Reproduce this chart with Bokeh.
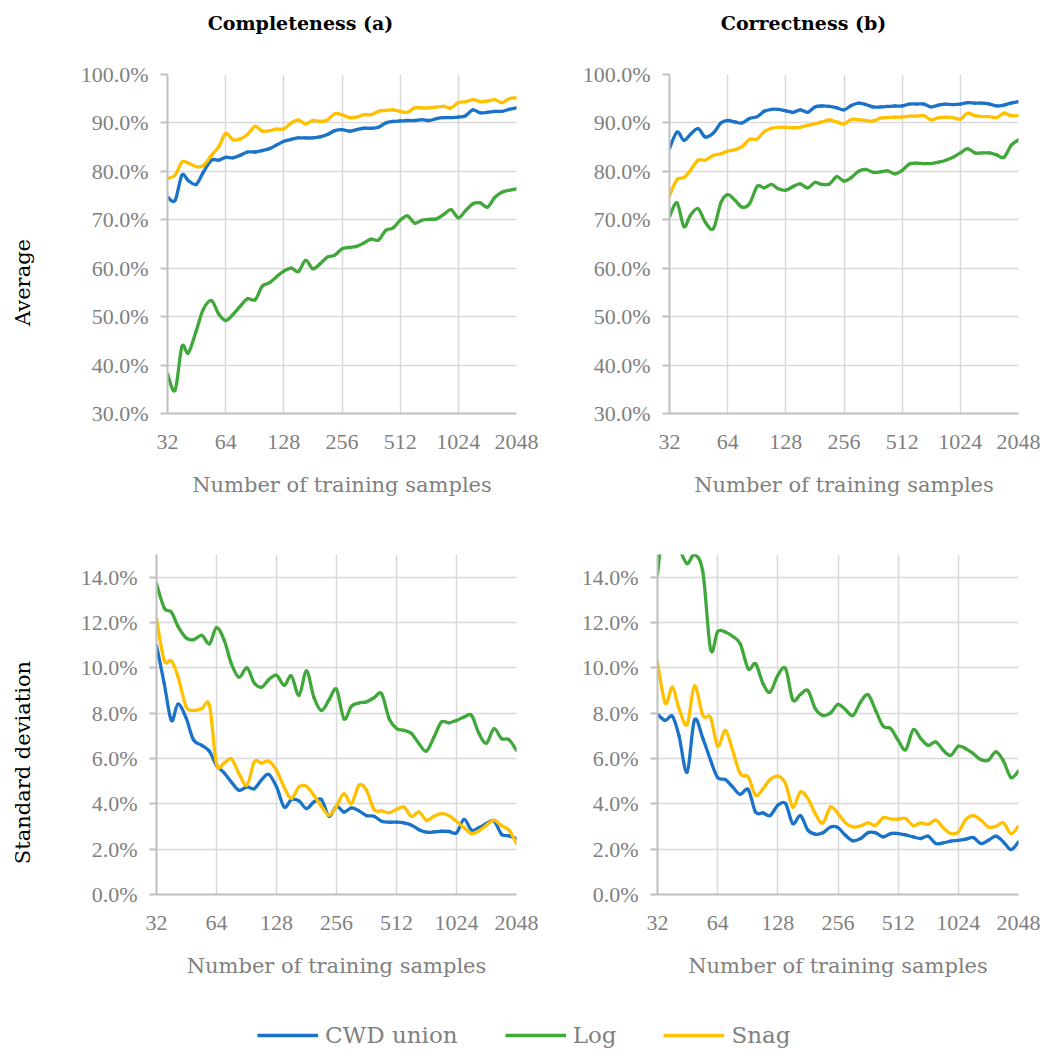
import math
from bokeh.plotting import figure
from bokeh.layouts import column, row
from bokeh.models import Range1d, FixedTicker, PrintfTickFormatter, Label, Legend, LegendItem
from bokeh.embed import file_html
from bokeh.resources import INLINE

# ---------------- data ----------------
samples = [32, 35, 38, 41, 45, 49, 54, 59,
           64, 70, 76, 83, 91, 99, 108, 117,
           128, 140, 152, 166, 181, 197, 215, 235,
           256, 279, 304, 332, 362, 395, 431, 470,
           512, 558, 609, 664, 724, 790, 861, 939,
           1024, 1117, 1218, 1328, 1448, 1579, 1722, 1878,
           2048]

series_names = ["CWD union", "Log", "Snag"]

# Completeness (a) - Average (%)
comp_avg_cwd = [74.7, 74.0, 79.2, 78.1, 77.3, 79.8, 82.3, 82.3, 82.9, 82.8, 83.3, 84.0, 84.0, 84.3, 84.7, 85.4,
                86.2, 86.6, 86.9, 86.9, 86.9, 87.1, 87.6, 88.4, 88.6, 88.3, 88.6, 88.9, 88.9, 89.1, 90.0, 90.3,
                90.4, 90.5, 90.5, 90.7, 90.5, 90.9, 91.1, 91.1, 91.2, 91.5, 92.7, 92.1, 92.2, 92.4, 92.4, 92.8, 93.1]
comp_avg_log = [38.2, 34.8, 43.8, 42.5, 47.0, 51.5, 53.3, 50.5, 49.2, 50.5, 52.1, 53.7, 53.5, 56.3, 57.0, 58.2,
                59.4, 60.0, 59.3, 61.6, 59.9, 60.9, 62.3, 62.7, 64.0, 64.3, 64.5, 65.2, 66.0, 65.8, 67.8, 68.3,
                69.9, 70.8, 69.3, 69.9, 70.1, 70.2, 71.1, 72.1, 70.4, 71.9, 73.3, 73.5, 72.6, 74.6, 75.7, 76.1, 76.4]
comp_avg_snag = [78.5, 79.2, 81.9, 81.7, 81.0, 81.2, 83.3, 85.1, 87.8, 86.5, 86.7, 87.6, 89.3, 88.3, 88.4, 88.7,
                 88.8, 90.0, 90.6, 89.8, 90.5, 90.3, 90.6, 91.9, 91.7, 91.1, 91.2, 91.7, 91.7, 92.4, 92.6, 92.7,
                 92.4, 92.2, 93.1, 93.1, 93.1, 93.3, 93.4, 93.1, 94.2, 94.4, 94.8, 94.4, 94.5, 94.8, 94.2, 95.0, 95.2]

# Correctness (b) - Average (%)
corr_avg_cwd = [84.7, 88.1, 86.4, 87.6, 88.8, 87.1, 87.9, 90.0, 90.5, 90.2, 90.0, 90.9, 91.3, 92.4, 92.8, 92.8,
                92.5, 92.2, 92.7, 92.2, 93.3, 93.5, 93.4, 93.1, 92.7, 93.6, 94.1, 93.8, 93.3, 93.3, 93.4, 93.5,
                93.5, 93.9, 93.9, 93.9, 93.3, 93.7, 93.9, 93.8, 93.9, 94.2, 94.1, 94.1, 93.9, 93.5, 93.7, 94.1, 94.4]
corr_avg_log = [70.6, 73.5, 68.6, 70.9, 72.3, 69.5, 68.2, 73.5, 75.2, 74.0, 72.6, 73.3, 76.9, 76.6, 77.3, 76.4,
                76.1, 76.9, 77.4, 76.6, 77.7, 77.3, 77.4, 78.9, 78.0, 78.7, 80.0, 80.4, 79.8, 79.9, 80.1, 79.5,
                80.2, 81.5, 81.7, 81.6, 81.6, 81.9, 82.3, 82.9, 83.8, 84.7, 83.8, 83.8, 83.8, 83.4, 82.9, 85.4, 86.5]
corr_avg_snag = [75.0, 78.3, 78.7, 80.2, 82.3, 82.3, 83.3, 83.6, 84.2, 84.5, 85.1, 86.6, 86.7, 88.2, 88.9, 89.1,
                 89.1, 89.0, 89.1, 89.5, 89.8, 90.2, 90.6, 90.2, 89.8, 90.7, 90.7, 90.5, 90.4, 91.0, 91.1, 91.2,
                 91.2, 91.4, 91.4, 91.5, 90.6, 91.1, 91.2, 91.1, 90.8, 92.0, 91.5, 91.3, 91.3, 91.1, 92.0, 91.5, 91.5]

# Completeness (a) - Standard deviation (%)
comp_sd_cwd = [10.99, 9.30, 7.68, 8.40, 7.80, 6.83, 6.58, 6.32, 5.70, 5.36, 4.96, 4.60, 4.75, 4.67, 5.07, 5.30,
               4.75, 3.86, 4.19, 4.13, 3.79, 4.08, 4.19, 3.45, 3.89, 3.64, 3.82, 3.69, 3.48, 3.45, 3.23, 3.19,
               3.19, 3.16, 3.06, 2.86, 2.75, 2.76, 2.79, 2.78, 2.72, 3.31, 2.84, 2.95, 3.13, 3.25, 2.66, 2.59, 2.47]
comp_sd_log = [13.71, 12.64, 12.46, 11.83, 11.33, 11.24, 11.43, 11.06, 11.77, 11.21, 10.18, 9.59, 10.0, 9.33, 9.15, 9.48,
               9.67, 9.23, 9.64, 8.79, 9.86, 8.71, 8.12, 8.59, 9.05, 7.75, 8.30, 8.45, 8.50, 8.68, 8.86, 7.76,
               7.32, 7.24, 7.10, 6.65, 6.33, 6.95, 7.61, 7.57, 7.68, 7.83, 7.90, 7.10, 6.68, 7.32, 6.88, 6.83, 6.36]
comp_sd_snag = [12.16, 10.33, 10.30, 9.62, 8.30, 8.12, 8.20, 8.34, 5.77, 5.80, 5.99, 5.33, 4.82, 5.85, 5.80, 5.88,
                5.48, 4.72, 4.23, 4.75, 4.77, 4.38, 3.89, 3.50, 3.89, 4.45, 4.01, 4.82, 4.60, 3.75, 3.69, 3.61,
                3.75, 3.86, 3.45, 3.64, 3.28, 3.45, 3.57, 3.48, 3.23, 2.95, 2.69, 2.81, 3.06, 3.28, 3.04, 2.84, 2.25]

# Correctness (b) - Standard deviation (%)
corr_sd_cwd = [7.95, 7.68, 7.86, 7.00, 5.40, 7.70, 6.88, 5.92, 5.16, 5.07, 4.75, 4.42, 4.63, 3.64, 3.60, 3.48,
               3.94, 4.01, 3.13, 3.48, 2.84, 2.66, 2.72, 2.98, 2.95, 2.61, 2.37, 2.47, 2.73, 2.72, 2.54, 2.69,
               2.69, 2.63, 2.54, 2.47, 2.57, 2.25, 2.28, 2.35, 2.39, 2.44, 2.51, 2.25, 2.39, 2.57, 2.32, 1.98, 2.32]
corr_sd_log = [14.15, 16.8, 16.0, 15.3, 14.6, 15.0, 14.2, 10.8, 11.6, 11.58, 11.39, 11.06, 9.96, 10.18, 9.30, 8.93,
               9.67, 9.96, 8.59, 8.83, 9.00, 8.20, 7.90, 8.01, 8.39, 8.15, 7.90, 8.49, 8.81, 8.12, 7.42, 7.32,
               6.80, 6.39, 7.27, 6.88, 6.58, 6.73, 6.36, 6.14, 6.54, 6.43, 6.21, 5.95, 5.92, 6.29, 5.89, 5.16, 5.45]
corr_sd_snag = [10.25, 8.45, 9.15, 8.20, 7.50, 9.20, 7.90, 7.80, 6.55, 7.24, 6.36, 5.33, 5.19, 4.38, 4.67, 5.07,
                5.22, 4.89, 3.86, 4.52, 4.23, 3.57, 3.16, 3.86, 3.57, 3.16, 2.98, 3.03, 3.16, 3.06, 3.39, 3.33,
                3.33, 3.35, 3.04, 3.16, 3.10, 3.28, 2.95, 2.69, 2.76, 3.31, 3.48, 3.28, 2.98, 3.01, 3.16, 2.69, 3.01]

x_ticks = [32, 64, 128, 256, 512, 1024, 2048]
x_tick_labels = ["32", "64", "128", "256", "512", "1024", "2048"]
avg_ticks = [30, 40, 50, 60, 70, 80, 90, 100]
sd_ticks = [0, 2, 4, 6, 8, 10, 12, 14]

col_titles = ["Completeness (a)", "Correctness (b)"]
row_titles = ["Average", "Standard deviation"]
x_title = "Number of training samples"

# ---------------- style ----------------
COLORS = ["#1a73c8", "#40a83a", "#ffc000"]
GRID = "#d9d9d9"
AXIS = "#bfbfbf"
TXT = "#7f7f7f"
SERIF = "DejaVu Serif"
NUM = "Liberation Serif"
LW = 3.3


def smooth_line(p, xs, ys, color):
    """Draw the series as a smooth curve (Excel-like) using bezier segments
    whose control points are derived from neighbouring data points."""
    lx = [math.log2(v) for v in xs]
    n = len(xs)
    d = dict(x0=[], y0=[], x1=[], y1=[], cx0=[], cy0=[], cx1=[], cy1=[])
    for i in range(n - 1):
        a, b = max(i - 1, 0), min(i + 2, n - 1)
        d["x0"].append(xs[i]); d["y0"].append(ys[i])
        d["x1"].append(xs[i + 1]); d["y1"].append(ys[i + 1])
        d["cx0"].append(2 ** (lx[i] + (lx[i + 1] - lx[a]) / 6))
        d["cy0"].append(ys[i] + (ys[i + 1] - ys[a]) / 6)
        d["cx1"].append(2 ** (lx[i + 1] - (lx[b] - lx[i]) / 6))
        d["cy1"].append(ys[i + 1] - (ys[b] - ys[i]) / 6)
    p.bezier(line_color=color, line_width=LW, line_cap="round", **d)


def panel(width, height, fl, fr, ft, fb, yr, yticks, data):
    p = figure(width=width, height=height, x_axis_type="log",
               x_range=Range1d(32, 2048), y_range=Range1d(*yr),
               output_backend="svg", toolbar_location=None,
               min_border_left=fl, min_border_right=width - fr,
               min_border_top=ft, min_border_bottom=height - fb)
    p.outline_line_color = None
    xt = FixedTicker(ticks=x_ticks)
    p.xaxis.ticker = xt
    p.xgrid.ticker = xt
    p.xaxis.major_label_overrides = {t: l for t, l in zip(x_ticks, x_tick_labels)}
    yt = FixedTicker(ticks=yticks)
    p.yaxis.ticker = yt
    p.ygrid.ticker = yt
    p.yaxis.formatter = PrintfTickFormatter(format="%.1f%%")
    for g in (p.xgrid, p.ygrid):
        g.grid_line_color = GRID
        g.grid_line_width = 1.5
    for ax in (p.xaxis, p.yaxis):
        ax.axis_line_color = AXIS
        ax.axis_line_width = 2
        ax.major_tick_line_color = AXIS
        ax.major_tick_line_width = 2
        ax.minor_tick_line_color = None
        ax.major_tick_in = 0
        ax.major_label_text_font = NUM
        ax.major_label_text_font_size = "22px"
        ax.major_label_text_color = TXT
    p.yaxis.major_tick_out = 7
    p.yaxis.major_label_standoff = 12
    p.xaxis.major_tick_out = 0
    p.xaxis.major_label_standoff = 21
    p.xaxis.axis_label = x_title
    p.xaxis.axis_label_text_font = SERIF
    p.xaxis.axis_label_text_font_size = "21px"
    p.xaxis.axis_label_text_font_style = "normal"
    p.xaxis.axis_label_text_color = TXT
    p.xaxis.axis_label_standoff = 21
    for ys, c in zip(data, COLORS):
        smooth_line(p, samples, ys, c)
    return p


def strip(width, height):
    s = figure(width=width, height=height, x_range=Range1d(0, 1), y_range=Range1d(0, 1),
               output_backend="svg", toolbar_location=None, min_border=0,
               x_axis_location=None, y_axis_location=None)
    s.outline_line_color = None
    s.xgrid.visible = False
    s.ygrid.visible = False
    return s


def text_label(s, text, x, y, size, bold=False, vertical=False):
    s.add_layout(Label(x=x, y=y, x_units="screen", y_units="screen", text=text,
                       text_font=SERIF, text_font_size=size,
                       text_font_style="bold" if bold else "normal",
                       text_color="#000000", text_align="center", text_baseline="middle",
                       angle=math.pi / 2 if vertical else 0))


# layout rows:   titles y 0..48 | top row 48..515 | bottom row 515..990 | legend 990..1050
top_strip = strip(1040, 48)
text_label(top_strip, col_titles[0], 300, 26, "19px", bold=True)
text_label(top_strip, col_titles[1], 803, 26, "19px", bold=True)

left_strip = strip(44, 942)
text_label(left_strip, row_titles[0], 22, 708, "21px", vertical=True)
text_label(left_strip, row_titles[1], 22, 228, "21px", vertical=True)

tl = panel(496, 467, 123, 472, 26, 365, (30, 100), avg_ticks, [comp_avg_cwd, comp_avg_log, comp_avg_snag])
tr = panel(500, 467, 129, 478, 26, 365, (30, 100), avg_ticks, [corr_avg_cwd, corr_avg_log, corr_avg_snag])
bl = panel(496, 475, 112, 472, 39, 379, (0, 15), sd_ticks, [comp_sd_cwd, comp_sd_log, comp_sd_snag])
br = panel(500, 475, 117, 478, 39, 379, (0, 15), sd_ticks, [corr_sd_cwd, corr_sd_log, corr_sd_snag])

# legend strip
lg = strip(1040, 60)
items = []
for name, ys, c in zip(series_names, [comp_avg_cwd, comp_avg_log, comp_avg_snag], COLORS):
    r = lg.line(samples, ys, line_color=c, line_width=LW)
    items.append(LegendItem(label=name, renderers=[r]))
legend = Legend(items=items, orientation="horizontal", location=(257, 2),
                padding=0, margin=0, spacing=47, glyph_width=61, glyph_height=20,
                label_standoff=7, label_text_font=SERIF, label_text_font_size="23px",
                label_text_color=TXT, border_line_color=None, background_fill_alpha=0)
lg.add_layout(legend, "center")

grid = column(row(tl, tr), row(bl, br), spacing=0)
layout = column(top_strip, row(left_strip, grid, spacing=0), lg, spacing=0)
open("out.html", "w").write(file_html(layout, INLINE))
